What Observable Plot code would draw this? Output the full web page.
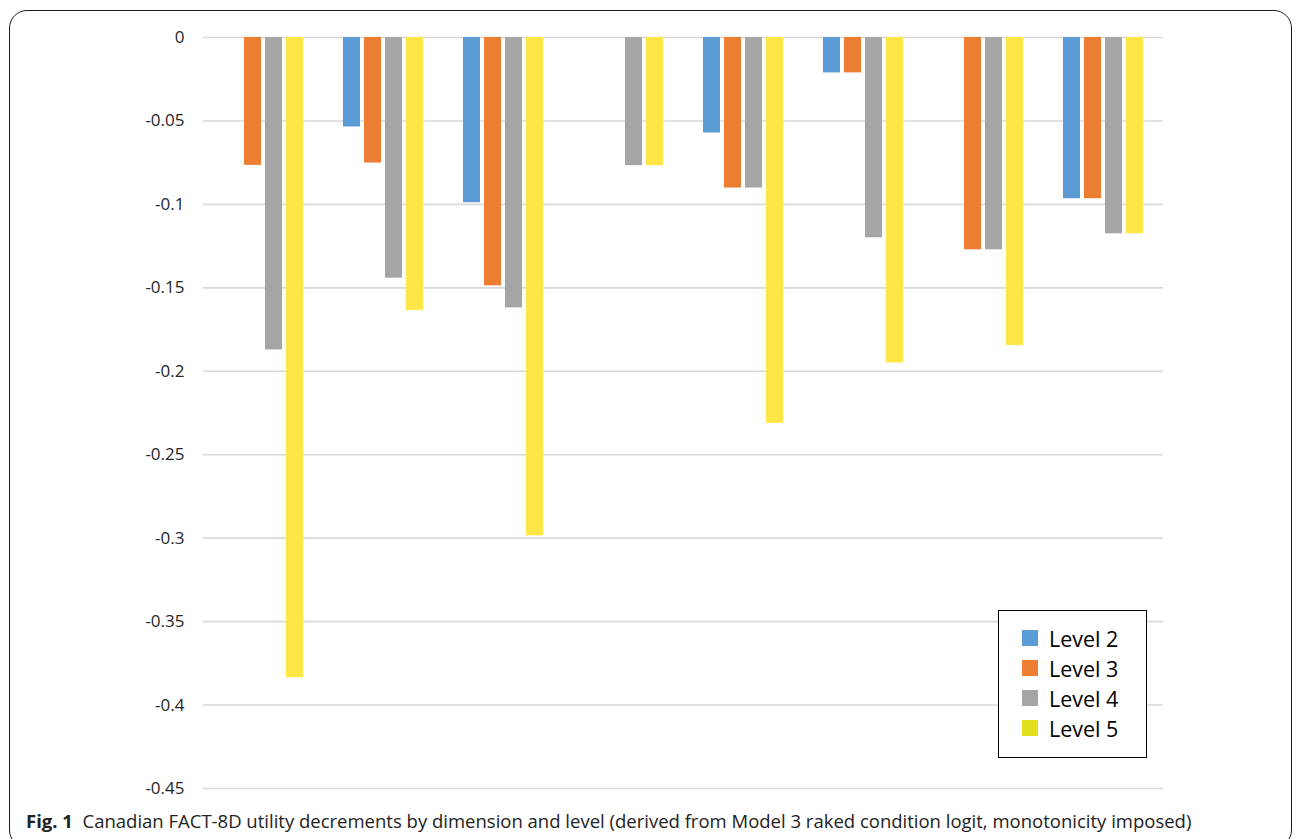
<!DOCTYPE html>
<html>
<head>
<meta charset="utf-8">
<script src="https://cdn.jsdelivr.net/npm/d3@7"></script>
<script src="https://cdn.jsdelivr.net/npm/@observablehq/plot@0.6"></script>
<style>
  html, body { margin: 0; padding: 0; background: #fff; }
  #wrap { position: relative; width: 1295px; height: 839px; overflow: hidden; font-family: "Open Sans", sans-serif; }
  #frame { position: absolute; left: 9px; top: 10px; width: 1283px; height: 838px; border: 1.5px solid #1a1a1a; border-radius: 18px; box-sizing: border-box; }
  .layer { position: absolute; left: 0; top: 0; }
  #legend { position: absolute; left: 998px; top: 610px; width: 149px; height: 148px; border: 1.5px solid #000; box-sizing: border-box; background: #fff; padding-top: 12px; }
  .item { height: 30px; display: flex; align-items: center; padding-left: 23px; font-size: 21.5px; color: #000; }
  .sw { width: 16px; height: 16px; margin-right: 11px; }
  #caption { position: absolute; left: 26px; top: 808px; font-size: 18.5px; color: #222; white-space: nowrap; }
  #caption b { font-weight: 700; }
</style>
</head>
<body>
<div id="wrap">
  <div id="frame"></div>
  <div id="gridLayer" class="layer"></div>
  <div id="barLayer" class="layer"></div>
  <div id="legend"></div>
  <div id="caption"><b>Fig. 1</b>&nbsp;&nbsp;Canadian FACT-8D utility decrements by dimension and level (derived from Model 3 raked condition logit, monotonicity imposed)</div>
</div>
<script>
// ---- data ----
const dimensions = ["Dimension 1", "Dimension 2", "Dimension 3", "Dimension 4", "Dimension 5", "Dimension 6", "Dimension 7", "Dimension 8"];
const levels = ["Level 2", "Level 3", "Level 4", "Level 5"];
const level2 = [null, -0.0536, -0.099, null, -0.0572, -0.0212, null, -0.0966];
const level3 = [-0.0766, -0.0752, -0.1488, null, -0.0902, -0.0212, -0.1272, -0.0966];
const level4 = [-0.1872, -0.1442, -0.162, -0.0768, -0.0902, -0.12, -0.1272, -0.1176];
const level5 = [-0.3836, -0.1636, -0.2986, -0.0768, -0.2312, -0.195, -0.1846, -0.1176];
const yTicks = [0, -0.05, -0.1, -0.15, -0.2, -0.25, -0.3, -0.35, -0.4, -0.45];
const barColors = ["#5B9BD5", "#ED7D31", "#A5A5A5", "#FFE545"];
const legendColors = ["#5B9BD5", "#ED7D31", "#A5A5A5", "#E5E01E"];

const series = [level2, level3, level4, level5];
const rows = [];
series.forEach((vals, li) => vals.forEach((v, di) => {
  if (v != null) rows.push({dimension: dimensions[di], level: levels[li], value: v});
}));

const W = 1295, H = 800;
const M = {marginLeft: 203, marginRight: 132, marginTop: 37, marginBottom: 12};
const yScale = {domain: [-0.45, 0]};
const fmt = d => d === 0 ? "0" : String(+d.toFixed(2));

// grid + axis layer
const gridPlot = Plot.plot({
  width: W, height: H, ...M,
  style: {fontFamily: "Open Sans", fontSize: "17px", color: "#262626", background: "transparent"},
  x: {domain: [0, 1], axis: null},
  y: {...yScale, ticks: yTicks, tickFormat: fmt, tickSize: 0, tickPadding: 19},
  marks: [
    Plot.ruleY(yTicks, {stroke: "#d9d9d9", strokeWidth: 1.6})
  ]
});
document.getElementById("gridLayer").append(gridPlot);

// bars layer (faceted by dimension)
const barPlot = Plot.plot({
  width: W, height: H, ...M,
  style: {background: "transparent"},
  fx: {domain: dimensions, paddingInner: 0.237, paddingOuter: 0.1183, axis: null, label: null},
  x: {domain: levels, padding: 0.2, axis: null},
  y: {...yScale, axis: null},
  color: {domain: levels, range: barColors},
  marks: [
    Plot.barY(rows, {fx: "dimension", x: "level", y1: 0, y2: "value", fill: "level"})
  ]
});
document.getElementById("barLayer").append(barPlot);

// legend
const lg = document.getElementById("legend");
levels.forEach((l, i) => {
  const it = document.createElement("div");
  it.className = "item";
  it.innerHTML = `<span class="sw" style="background:${legendColors[i]}"></span><span>${l}</span>`;
  lg.append(it);
});
</script>
</body>
</html>
